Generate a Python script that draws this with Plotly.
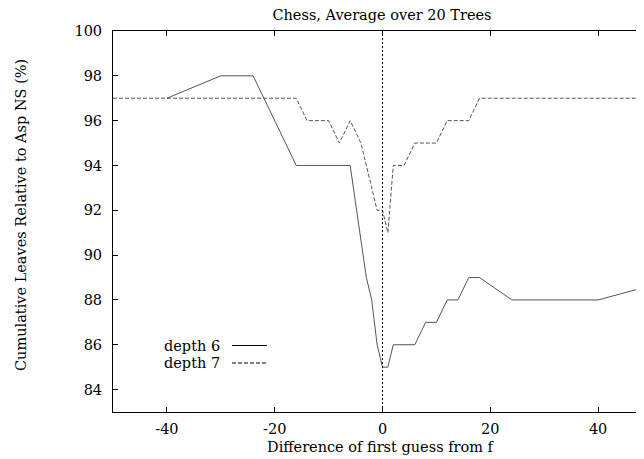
import plotly.graph_objects as go

# Data
depth6_x = [-40, -30, -24, -16, -6, -3, -2, -1, 0, 1, 2, 6, 8, 10, 12, 14, 16, 18, 24, 40, 50]
depth6_y = [97, 98, 98, 94, 94, 89, 88, 86, 85, 85, 86, 86, 87, 87, 88, 88, 89, 89, 88, 88, 88.65]

depth7_x = [-50, -16, -14, -10, -8, -6, -4, -1, 0, 1, 2, 4, 6, 10, 12, 16, 18, 50]
depth7_y = [97, 97, 96, 96, 95, 96, 95, 92, 92, 91, 94, 94, 95, 95, 96, 96, 97, 97]

x_ticks = [-40, -20, 0, 20, 40]
y_ticks = [84, 86, 88, 90, 92, 94, 96, 98, 100]

FONT = "DejaVu Serif"
FS = 14.5
OFF = 8  # page body margin
W, H = 644 - OFF, 459 - OFF
ML, MT = 113 - OFF, 31 - OFF
MR, MB = 0, H - (412 - OFF)
PW, PH = W - ML - MR, H - MT - MB


def px_x(p):
    return (p - OFF - ML) / PW


def px_y(p):
    return (H - MB - (p - OFF)) / PH


fig = go.Figure()
fig.add_trace(go.Scatter(x=depth6_x, y=depth6_y, mode="lines", name="depth 6",
                         line=dict(color="#555555", width=1), showlegend=False))
fig.add_trace(go.Scatter(x=depth7_x, y=depth7_y, mode="lines", name="depth 7",
                         line=dict(color="#555555", width=1, dash="4px,2px"), showlegend=False))

# vertical dotted line at x = 0
fig.add_shape(type="line", xref="x", yref="paper", x0=0, x1=0, y0=0, y1=1,
              line=dict(color="black", width=1, dash="2px,2px"))

# manual gnuplot-style legend (text then sample)
legend_items = [("depth 6", "solid", 345.5), ("depth 7", "4px,2px", 363)]
for label, dash, ypx in legend_items:
    fig.add_annotation(text=label, xref="paper", yref="paper", x=px_x(222), y=px_y(ypx),
                       xanchor="right", yanchor="middle", showarrow=False,
                       font=dict(family=FONT, size=FS, color="black"))
    fig.add_shape(type="line", xref="paper", yref="paper", x0=px_x(232), x1=px_x(267),
                  y0=px_y(ypx), y1=px_y(ypx), line=dict(color="black", width=1, dash=dash))

# axis titles
fig.add_annotation(text="Difference of first guess from f", xref="paper", yref="paper",
                   x=px_x(381), y=0, yshift=-35, xanchor="center", yanchor="middle",
                   showarrow=False, font=dict(family=FONT, size=FS, color="black"))
fig.add_annotation(text="Cumulative Leaves Relative to Asp NS (%)", xref="paper", yref="paper",
                   x=px_x(21), y=px_y(215), xanchor="center", yanchor="middle", textangle=-90,
                   showarrow=False, font=dict(family=FONT, size=FS, color="black"))

fig.update_layout(
    width=W, height=H,
    margin=dict(l=ML, r=MR, t=MT, b=MB, autoexpand=False),
    paper_bgcolor="white", plot_bgcolor="white",
    title=dict(text="Chess, Average over 20 Trees", x=(382 - OFF) / W, xanchor="center",
               xref="container", y=1 - (15 - OFF) / H, yanchor="middle", yref="container",
               font=dict(family=FONT, size=FS, color="black")),
    font=dict(family=FONT, size=FS, color="black"),
    xaxis=dict(range=[-50, -50 + PW / 5.39], tickvals=x_ticks, ticktext=[str(v) for v in x_ticks],
               showgrid=False, zeroline=False, showline=True, linecolor="black", linewidth=1,
               mirror="ticks", ticks="inside", ticklen=5, tickcolor="black", tickwidth=1,
               ticklabelstandoff=4,
               tickfont=dict(family=FONT, size=FS, color="black")),
    yaxis=dict(range=[83, 100], tickvals=y_ticks, ticktext=[str(v) for v in y_ticks],
               showgrid=False, zeroline=False, showline=True, linecolor="black", linewidth=1,
               mirror=False, ticks="inside", ticklen=5, tickcolor="black", tickwidth=1,
               ticklabelstandoff=7,
               tickfont=dict(family=FONT, size=FS, color="black")),
)

fig.write_html("out.html")
